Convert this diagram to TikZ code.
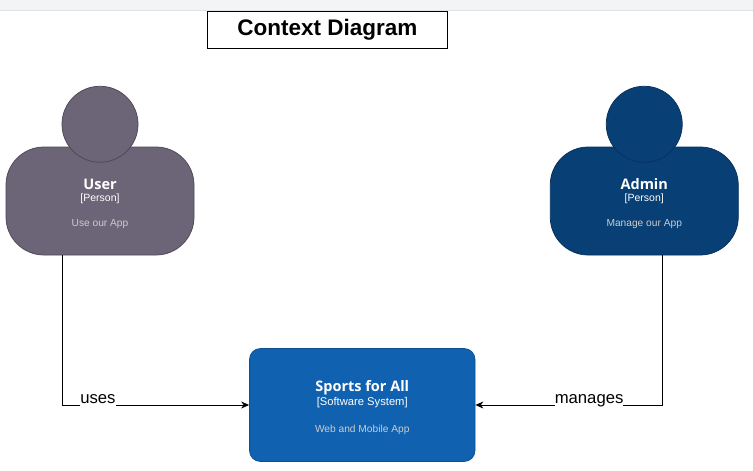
\documentclass[tikz,border=0pt]{standalone}
\usepackage{fontspec}
\setmainfont{Liberation Sans}
\newfontfamily\labelfont{Open Sans}
\usetikzlibrary{
    positioning,
    arrows.meta
}

\definecolor{userfill}{HTML}{6C6477}
\definecolor{userline}{HTML}{4D4857}
\definecolor{adminfill}{HTML}{083F75}
\definecolor{adminline}{HTML}{06315C}
\definecolor{systemfill}{HTML}{1061B0}
\definecolor{systemline}{HTML}{0D5091}
\definecolor{subtext}{HTML}{CCCCCC}
\definecolor{topband}{HTML}{F3F4F6}
\definecolor{topedge}{HTML}{E2E3E6}

\newcommand{\boxname}[1]{{\labelfont\bfseries\fontsize{14.5}{16}\selectfont\rule{0pt}{16pt}#1}}
\newcommand{\boxkind}[2][10.5]{{\fontsize{#1}{12}\selectfont #2}}
\newcommand{\boxnote}[1]{{\fontsize{10.2}{12}\selectfont\color{subtext} #1}}

\begin{document}
\begin{tikzpicture}
[
    x=1pt,
    y=-1pt,
    body/.style={
        rectangle,
        rounded corners=38pt,
        line width=0.75pt,
        text=white,
        align=center,
        inner sep=0pt,
        minimum width=188pt,
        minimum height=108pt
    },
    head/.style={
        circle,
        line width=0.75pt,
        inner sep=0pt,
        minimum size=76pt
    },
    arrow/.style={
        -{Stealth[length=8pt,width=7pt]},
        line width=0.75pt,
        black
    },
    linklabel/.style={
        fill=white,
        inner sep=0pt,
        anchor=base,
        yshift=2pt,
        text height=12pt,
        text depth=3.5pt,
        font=\fontsize{16.7}{18}\selectfont
    }
]


% =====================
% PAGE
% =====================

\path[fill=white] (0,0) rectangle (753,471);
\path[fill=topband] (0,0) rectangle (753,10);
\path[fill=topedge] (0,10) rectangle (753,11);


% =====================
% TITLE
% =====================

\node[
draw=black,
line width=0.75pt,
fill=white,
minimum width=240pt,
minimum height=37pt,
inner sep=0pt,
font=\bfseries\fontsize{22.5}{24}\selectfont
]
(title)
at (327.5,30)
{Context Diagram};


% =====================
% PEOPLE
% =====================

\node[
body,
draw=userline,
fill=userfill
]
(userbody)
at (100,201)
{
\boxname{User}\\[0pt]
\boxkind{[Person]}\\[13pt]
\boxnote{Use our App}
};


\node[
head,
draw=userline,
fill=userfill,
above=-16pt of userbody
]
(userhead)
{};


\node[
body,
draw=adminline,
fill=adminfill,
right=355.5pt of userbody
]
(adminbody)
{
\boxname{Admin}\\[0pt]
\boxkind{[Person]}\\[13pt]
\boxnote{Manage our App}
};


\node[
head,
draw=adminline,
fill=adminfill,
above=-16pt of adminbody
]
(adminhead)
{};


% =====================
% SYSTEM
% =====================

\node[
body,
rounded corners=11pt,
draw=systemline,
fill=systemfill,
minimum width=225.5pt,
minimum height=113pt
]
(system)
at (362.25,405)
{
\boxname{Sports for All}\\[2pt]
\boxkind[11.2]{[Software System]}\\[15pt]
\boxnote{Web and Mobile App}
};


% =====================
% CONNECTIONS
% =====================

\draw[arrow]
([xshift=-38pt]userbody.south)
|-
(system.west)
node[linklabel,pos=0.596] (uses) {uses};


\draw[arrow]
([xshift=18.5pt]adminbody.south)
|-
(system.east)
node[linklabel,pos=0.6965] (manages) {manages};


\end{tikzpicture}
\end{document}
